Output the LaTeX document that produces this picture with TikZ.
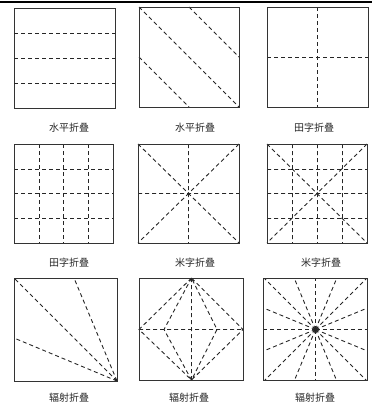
\documentclass[tikz,border=0pt]{standalone}
\usepackage{fontspec}
\newfontfamily\cjk{Noto Sans CJK SC}
\begin{document}
\begin{tikzpicture}[x=1pt,y=-1pt,
  frame/.style={draw=black!80,line width=1pt},
  fold/.style={draw=black!85,line width=0.9pt,dash pattern=on 4pt off 3pt},
  lbl/.style={font=\cjk\fontsize{10}{10}\selectfont,inner sep=0pt,text=black!85},
  dotc/.style={fill=black!85}]
\useasboundingbox (0,0) rectangle (372,410);
\draw[line width=1.6pt] (0,2) -- (372,2);
% ---- P1: horizontal folds
\draw[frame] (14.5,8.5) rectangle (115.5,108.5);
\draw[fold] (14,33.5) -- (115,33.5) (14,58.5) -- (115,58.5) (14,83.5) -- (115,83.5);
\node[lbl] (l1) at (69,128) {水平折叠};
% ---- P2: diagonal folds
\draw[fold] (139,7) -- (239,107) (189,7) -- (239,57) (139,57) -- (189,107);
\draw[frame] (139.5,7.5) rectangle (239.5,107.5);
\node[lbl] (l2) at (195,128) {水平折叠};
% ---- P3: cross
\draw[fold] (317.5,7) -- (317.5,107) (267,57.5) -- (368,57.5);
\draw[frame] (267.5,7.5) rectangle (368.5,107.5);
\node[lbl] (l3) at (314,128) {田字折叠};
% ---- P4: 4x4 grid
\draw[fold] (39.5,144) -- (39.5,243) (63.5,144) -- (63.5,243) (88.5,144) -- (88.5,243)
  (14,169.5) -- (113,169.5) (14,193.5) -- (113,193.5) (14,218.5) -- (113,218.5);
\draw[frame] (14.5,144.5) rectangle (113.5,243.5);
\node[lbl] (l4) at (69,263) {田字折叠};
% ---- P5: mi-zi
\draw[fold] (138,144) -- (239,243) (239,144) -- (138,243) (188.5,144) -- (188.5,243) (138,193.5) -- (239,193.5);
\draw[frame] (138.5,144.5) rectangle (239.5,243.5);
\fill[dotc] (188.5,193.5) circle (1.3);
\node[lbl] (l5) at (195,263) {米字折叠};
% ---- P6: mi-zi with grid
\draw[fold] (267,144) -- (367,243) (367,144) -- (267,243)
  (292.5,144) -- (292.5,243) (317.5,144) -- (317.5,243) (342.5,144) -- (342.5,243)
  (267,169.5) -- (367,169.5) (267,193.5) -- (367,193.5) (267,218.5) -- (367,218.5);
\draw[frame] (267.5,144.5) rectangle (367.5,243.5);
\fill[dotc] (317.5,193.5) circle (1.3);
\node[lbl] (l6) at (321,263) {米字折叠};
% ---- P7: radial from corner
\draw[fold] (117,381) -- (14,278) (117,381) -- (74,278) (117,381) -- (14,338);
\draw[frame] (14.5,278.5) rectangle (117.5,381.5);
\node[lbl] (l7) at (69,398) {辐射折叠};
% ---- P8: diamond
\draw[fold] (191.5,278) -- (191.5,380) (139,329.5) -- (243,329.5)
  (191.5,278) -- (139,329.5) -- (191.5,380) -- (243,329.5) -- cycle
  (191.5,278) -- (164,329.5) -- (191.5,380) -- (217,329.5) -- cycle;
\draw[frame] (139.5,278.5) rectangle (243.5,380.5);
\fill[dotc] (191.5,279) circle (1.2) (191.5,379) circle (1.2);
\node[lbl] (l8) at (189,398) {辐射折叠};
% ---- P9: 16 rays
\begin{scope}
\clip (263,278) rectangle (367,380);
\foreach \a in {0,22.5,...,337.5}
  \draw[fold] (315.5,329.5) -- ++(\a:90);
\end{scope}
\draw[frame] (263.5,278.5) rectangle (367.5,380.5);
\fill[dotc] (315.5,329.5) circle (1.5);
\node[lbl] (l9) at (315,398) {辐射折叠};
\end{tikzpicture}
\end{document}
